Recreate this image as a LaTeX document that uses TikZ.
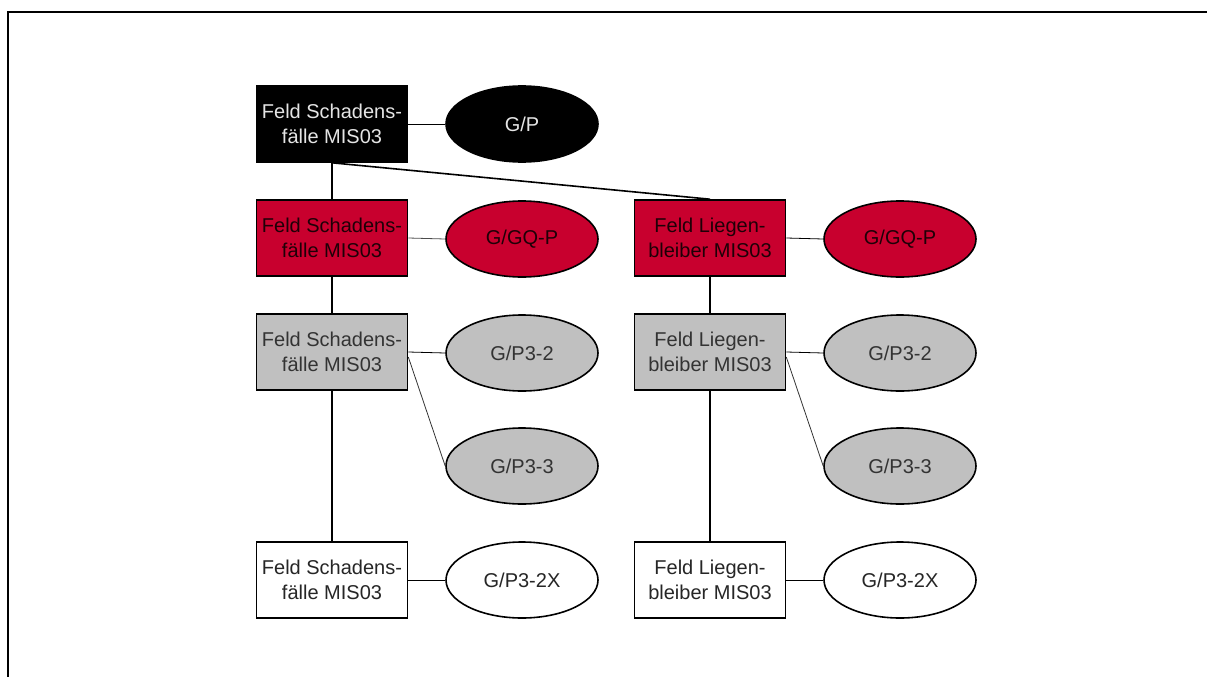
\documentclass[tikz,border=0pt]{standalone}
\usepackage{fontspec}
\setmainfont{Liberation Sans}
\usetikzlibrary{shapes.geometric}
\definecolor{dbred}{RGB}{200,0,46}
\definecolor{dbgray}{RGB}{192,192,192}
\begin{document}
\begin{tikzpicture}[x=1pt,y=-1pt,
  box/.style={draw, line width=1.6pt, minimum width=151pt, minimum height=76pt, inner sep=0pt, align=center, font=\fontsize{20}{25}\selectfont},
  oval/.style={ellipse, draw, line width=1.6pt, minimum width=152pt, minimum height=76pt, inner sep=0pt, font=\fontsize{20}{25}\selectfont},
  blackf/.style={fill=black, text=white!90!black},
  redf/.style={fill=dbred, text=black!85!dbred},
  grayf/.style={fill=dbgray, text=black!80},
  whitef/.style={fill=white, text=black!85},
  vlink/.style={line width=1.6pt},
  hlink/.style={line width=0.8pt},
  frame/.style={line width=2pt}]
\useasboundingbox (0,0) rectangle (1207,677);
\draw[frame] (8,677) -- (8,12.5) -- (1207,12.5);

% nodes
\node[box, blackf] (b0) at (332,124) {Feld Schadens-\\fälle MIS03};
\node[oval, blackf] (e0) at (522,124) {G/P};

\node[box, redf] (r1) at (332,238) {Feld Schadens-\\fälle MIS03};
\node[oval, redf] (er1) at (522,239) {G/GQ-P};
\node[box, redf] (r2) at (710,238) {Feld Liegen-\\bleiber MIS03};
\node[oval, redf] (er2) at (900,239) {G/GQ-P};

\node[box, grayf] (g1) at (332,352) {Feld Schadens-\\fälle MIS03};
\node[oval, grayf] (eg12) at (522,353) {G/P3-2};
\node[oval, grayf] (eg13) at (522,466) {G/P3-3};
\node[box, grayf] (g2) at (710,352) {Feld Liegen-\\bleiber MIS03};
\node[oval, grayf] (eg22) at (900,353) {G/P3-2};
\node[oval, grayf] (eg23) at (900,466) {G/P3-3};

\node[box, whitef] (w1) at (332,580) {Feld Schadens-\\fälle MIS03};
\node[oval, whitef] (ew1) at (522,580) {G/P3-2X};
\node[box, whitef] (w2) at (710,580) {Feld Liegen-\\bleiber MIS03};
\node[oval, whitef] (ew2) at (900,580) {G/P3-2X};

% vertical links
\draw[vlink] (b0.south) -- (r1.north);
\draw[vlink] (b0.south) -- (r2.north);
\draw[vlink] (r1.south) -- (g1.north);
\draw[vlink] (r2.south) -- (g2.north);
\draw[vlink] (g1.south) -- (w1.north);
\draw[vlink] (g2.south) -- (w2.north);

% side links
\draw[hlink] (b0.east) -- (e0.west);
\draw[hlink, black!70] (r1.east) -- (er1.west);
\draw[hlink] (r2.east) -- (er2.west);
\draw[hlink] (g1.east) -- (eg12.west);
\draw[hlink, black!80] ([yshift=-5pt]g1.east) -- (eg13.west);
\draw[hlink] (g2.east) -- (eg22.west);
\draw[hlink, black!80] ([yshift=-5pt]g2.east) -- (eg23.west);
\draw[hlink] (w1.east) -- (ew1.west);
\draw[hlink] (w2.east) -- (ew2.west);
\end{tikzpicture}
\end{document}
